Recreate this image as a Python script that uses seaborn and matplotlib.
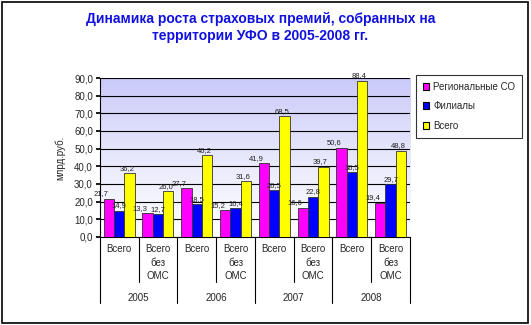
import numpy as np
import pandas as pd
import matplotlib
matplotlib.use("Agg")
import matplotlib.pyplot as plt
import seaborn as sns
from matplotlib.patches import Rectangle
from matplotlib.lines import Line2D

years = ["2005", "2006", "2007", "2008"]
subcats = ["Всего", "Всего\nбез\nОМС"]
series = ["Региональные СО", "Филиалы", "Всего"]
regional = [21.7, 13.3, 27.7, 15.2, 41.9, 16.6, 50.6, 19.4]
branches = [14.9, 12.7, 18.5, 16.4, 26.5, 22.8, 36.5, 29.7]
total = [36.2, 26.0, 46.2, 31.6, 68.5, 39.7, 88.4, 48.8]
colors = ["#FF00FF", "#0000FF", "#FFFF00"]

cats = [f"{y}|{s}" for y in years for s in subcats]
df = pd.DataFrame({
    "cat": cats * 3,
    "series": sum([[s] * len(cats) for s in series], []),
    "value": regional + branches + total,
})

sns.set_theme(style="white")
plt.rcParams["font.family"] = ["Liberation Sans", "DejaVu Sans"]

fig = plt.figure(figsize=(5.31, 3.25), dpi=100)
fig.patch.set_facecolor("white")
fig.add_artist(Rectangle((0.004, 0.006), 0.99, 0.988, transform=fig.transFigure,
                         fill=False, edgecolor="black", linewidth=1.2))

ax = fig.add_axes([0.188, 0.271, 0.584, 0.489])
# gradient background
grad = np.linspace(0, 1, 256).reshape(-1, 1)
cmap = matplotlib.colors.LinearSegmentedColormap.from_list("bg", ["#FFFFFF", "#E8E8FC", "#CACAFA"])
ax.imshow(grad, extent=[0, 1, 0, 1], transform=ax.transAxes, cmap=cmap,
          origin="lower", aspect="auto", zorder=0)

sns.barplot(data=df, x="cat", y="value", hue="series", palette=colors,
            order=cats, hue_order=series, width=0.8, ax=ax, saturation=1,
            edgecolor="#333333", linewidth=0.6, legend=False, zorder=3)

ax.set_ylim(0, 90)
ax.set_yticks(np.arange(0, 91, 10))
ax.set_yticklabels([f"{v:.1f}".replace(".", ",") for v in np.arange(0, 91, 10)],
                   fontsize=7)
ax.yaxis.grid(True, color="black", linewidth=0.8, zorder=1)
ax.set_axisbelow(True)
ax.tick_params(axis="y", length=3, color="black", left=True, pad=2)
ax.set_xlabel("")
ax.set_ylabel("млрд.руб.", fontsize=7, labelpad=6)
ax.set_xticks(range(len(cats)))
ax.set_xticklabels([])
ax.tick_params(axis="x", length=0)
for s in ["top", "right"]:
    ax.spines[s].set_visible(False)
ax.spines["left"].set_color("black")
ax.spines["bottom"].set_color("black")
ax.spines["left"].set_linewidth(0.8)
ax.spines["bottom"].set_linewidth(0.8)
ax.set_xlim(-0.5, len(cats) - 0.5)

for ci, cont in enumerate(ax.containers):
    labels = [f"{v:.1f}".replace(".", ",") for v in cont.datavalues]
    texts = ax.bar_label(cont, labels=labels, fontsize=5.5, padding=1, color="#222222")
    if ci == 0:
        for t in texts:
            t.set_horizontalalignment("right")
    elif ci == 2:
        for t in texts:
            t.set_position((-2, 1))

# two-level category axis
trans = matplotlib.transforms.blended_transform_factory(ax.transData, ax.transAxes)
for i, c in enumerate(cats):
    y, s = c.split("|")
    ax.text(i, -0.045, s, transform=trans, ha="center", va="top", fontsize=7,
            linespacing=1.45)
for j, y in enumerate(years):
    ax.text(2 * j + 0.5, -0.385, y, transform=trans, ha="center", va="center", fontsize=7)
for k in range(len(cats) + 1):
    x = k - 0.5
    ylow = -0.415 if k % 2 == 0 else -0.285
    ax.add_line(Line2D([x, x], [0, ylow], transform=trans, color="black",
                       linewidth=0.8, clip_on=False))

fig.text(0.49, 0.915, "Динамика роста страховых премий, собранных на\nтерритории УФО в 2005-2008 гг.",
         ha="center", va="center", fontsize=10, fontweight="bold", color="#1010E0",
         linespacing=1.3)

handles = [Rectangle((0, 0), 1, 1, facecolor=c, edgecolor="black", linewidth=0.8) for c in colors]
leg = fig.legend(handles, series, loc="upper left", bbox_to_anchor=(0.774, 0.785),
                 fontsize=7, frameon=True, handlelength=0.7, handleheight=0.7,
                 handletextpad=0.4, labelspacing=1.0, borderpad=0.7, fancybox=False)
leg.get_frame().set_edgecolor("black")
leg.get_frame().set_linewidth(0.8)

fig.savefig("out.png", dpi=100)
